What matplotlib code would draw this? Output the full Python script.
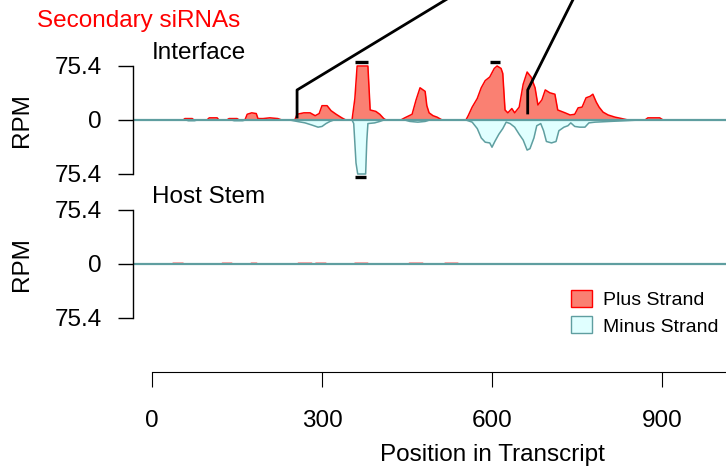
import matplotlib
matplotlib.use("Agg")
import matplotlib.pyplot as plt
from matplotlib.patches import Patch

plt.rcParams["font.family"] = ["Liberation Sans", "DejaVu Sans"]

W, H = 726, 470
FS = 17.5

# interface, plus strand (position, RPM)
iface_plus_pos = [0, 55, 58, 71, 74, 97, 101, 115, 118, 132, 136, 150, 154, 164, 168, 176, 184, 187,
                  196, 208, 222, 229, 252, 256, 268, 279, 288, 295, 300, 309, 316, 325, 335, 342,
                  353, 358, 362, 381, 385, 395, 402, 409, 413, 439, 446, 459, 466, 473, 482, 485,
                  489, 496, 503, 512, 554, 558, 565, 574, 581, 588, 596, 604, 609, 616, 619, 623,
                  628, 635, 640, 648, 655, 662, 669, 676, 681, 688, 694, 702, 711, 716, 729, 738,
                  746, 752, 759, 766, 773, 778, 784, 789, 796, 805, 817, 829, 840, 870, 875, 896,
                  902, 1013]
iface_plus_val = [0, 0, 2, 2, 0, 0, 3, 3, 0, 0, 2, 2, 0, 0, 8, 10, 9, 2,
                  2, 3, 2, 0, 0, 8, 10, 10, 6, 9, 20, 20, 13, 8, 3, 0,
                  0, 30, 75.4, 75.4, 14, 12, 8, 2, 0, 0, 3, 8, 28, 45, 40, 20,
                  10, 6, 4, 0, 0, 6, 18, 30, 45, 55, 60, 72, 75.4, 72, 65, 14,
                  10, 16, 10, 18, 50, 67, 60, 45, 21, 28, 42, 38, 36, 14, 10, 7,
                  8, 17, 18, 31, 33, 36, 25, 18, 11, 7, 4, 2, 0, 0, 3, 3,
                  0, 0]

# interface, minus strand
iface_minus_pos = [0, 60, 64, 75, 80, 140, 145, 160, 165, 243, 256, 270, 282, 293, 300, 307, 314,
                   321, 353, 356, 360, 363, 377, 379, 381, 393, 402, 409, 446, 455, 469, 482, 490,
                   554, 565, 574, 581, 588, 596, 600, 605, 612, 619, 625, 632, 640, 648, 655, 662,
                   667, 674, 679, 686, 691, 696, 705, 713, 718, 727, 734, 739, 746, 755, 764, 771,
                   782, 808, 835, 861, 1013]
iface_minus_val = [0, 0, -1, -1, 0, 0, -1, -1, 0, 0, -2, -4, -7, -10, -9, -5, -2,
                   0, 0, -5, -60, -75.4, -75.4, -30, -5, -4, -2, 0, 0, -2, -3, -2, 0,
                   0, -3, -12, -25, -31, -32, -38, -30, -20, -12, -3, -5, -10, -20, -28, -42,
                   -40, -25, -8, -5, -15, -30, -32, -30, -15, -10, -8, -4, -9, -10, -10, -4,
                   -3, -2, -1, 0, 0]

# host stem, plus strand (barely above zero)
host_plus_pos = [0, 36, 37, 55, 56, 123, 124, 141, 142, 174, 175, 185, 186, 257, 258, 282, 283,
                 288, 289, 307, 308, 357, 358, 381, 382, 453, 454, 478, 479, 516, 517, 540, 541, 1013]
host_plus_val = [0, 0, 0.8, 0.8, 0, 0, 0.8, 0.8, 0, 0, 0.8, 0.8, 0, 0, 0.8, 0.8, 0,
                 0, 0.8, 0.8, 0, 0, 0.8, 0.8, 0, 0, 0.8, 0.8, 0, 0, 0.8, 0.8, 0, 0]
host_minus_pos = [0, 1013]
host_minus_val = [0, 0]

ylim_rpm = 75.4
yticks = [ylim_rpm, 0, -ylim_rpm]
ytick_labels = ["75.4", "0", "75.4"]
xticks = [0, 300, 600, 900]

# black marks over clipped peaks
clip_top = [(358, 381), (596, 614)]
clip_bottom = [(358, 377)]

# connector lines to region above
connectors = [[(256, 4.2), (256, 41.9), (575, 195)],
              [(663, 9.8), (663, 41.9), (760, 195)]]

px_per_pos = 170 / 300.0
x0_px = 152
xmin = (133 - x0_px) / px_per_pos
xmax = (W - x0_px) / px_per_pos
px_per_rpm = 54 / ylim_rpm
half_px = 64
ylim = half_px / px_per_rpm

fig = plt.figure(figsize=(W / 100, H / 100), dpi=100)


def panel(center_px, plus_pos, plus_val, minus_pos, minus_val):
    ax = fig.add_axes([133 / W, 1 - (center_px + half_px) / H, (W - 133) / W, 2 * half_px / H])
    ax.set_xlim(xmin, xmax)
    ax.set_ylim(-ylim, ylim)
    ax.fill_between(plus_pos, 0, plus_val, color="salmon", lw=0)
    ax.plot(plus_pos, plus_val, color="red", lw=1.1)
    ax.fill_between(minus_pos, 0, minus_val, color="lightcyan", lw=0)
    ax.plot(minus_pos, minus_val, color="cadetblue", lw=1.1)
    ax.axhline(0, color="cadetblue", lw=1.6)
    for s in ["top", "right", "bottom"]:
        ax.spines[s].set_visible(False)
    ax.spines["left"].set_bounds(-ylim_rpm, ylim_rpm)
    ax.spines["left"].set_linewidth(1.0)
    ax.set_yticks(yticks)
    ax.set_yticklabels(ytick_labels)
    ax.tick_params(axis="y", length=10.8, pad=11.5, labelsize=FS, width=1.0)
    ax.set_xticks([])
    ax.patch.set_visible(False)
    fig.text(22 / W, 1 - center_px / H, "RPM", rotation=90, ha="center", va="center", fontsize=FS)
    return ax


ax1 = panel(120, iface_plus_pos, iface_plus_val, iface_minus_pos, iface_minus_val)
ax2 = panel(264, host_plus_pos, host_plus_val, host_minus_pos, host_minus_val)

for a, b in clip_top:
    ax1.plot([a, b], [81, 81], color="black", lw=2.4, solid_capstyle="butt", clip_on=False)
for a, b in clip_bottom:
    ax1.plot([a, b], [-79.6, -79.6], color="black", lw=2.4, solid_capstyle="butt", clip_on=False)
for c in connectors:
    xs, ys = zip(*c)
    ax1.plot(xs, ys, color="black", lw=2.0, clip_on=False)

# x axis
axx = fig.add_axes([133 / W, 1 - 372 / H, (W - 133) / W, 1 / H])
axx.set_xlim(xmin, xmax)
for s in ["top", "right", "left"]:
    axx.spines[s].set_visible(False)
axx.spines["bottom"].set_bounds(0, xmax)
axx.set_yticks([])
axx.set_xticks(xticks)
axx.tick_params(axis="x", length=10.8, pad=16.5, labelsize=FS)
axx.patch.set_visible(False)

fig.text(492 / W, 1 - 455 / H, "Position in Transcript", ha="center", va="center", fontsize=FS)
fig.text(37 / W, 1 - 27 / H, "Secondary siRNAs", color="red", ha="left", va="baseline", fontsize=FS)
fig.text(152 / W, 1 - 59 / H, "Interface", ha="left", va="baseline", fontsize=FS)
fig.text(152 / W, 1 - 203 / H, "Host Stem", ha="left", va="baseline", fontsize=FS)

# legend
handles = [Patch(facecolor="salmon", edgecolor="red", label="Plus Strand"),
           Patch(facecolor="lightcyan", edgecolor="cadetblue", label="Minus Strand")]
fig.legend(handles=handles, loc="upper left", bbox_to_anchor=(571 / W, 1 - 290 / H),
           frameon=False, fontsize=14, handlelength=1.08, handleheight=0.95,
           handletextpad=0.56, labelspacing=0.38, borderpad=0, borderaxespad=0)

fig.savefig("out.png", dpi=100)
